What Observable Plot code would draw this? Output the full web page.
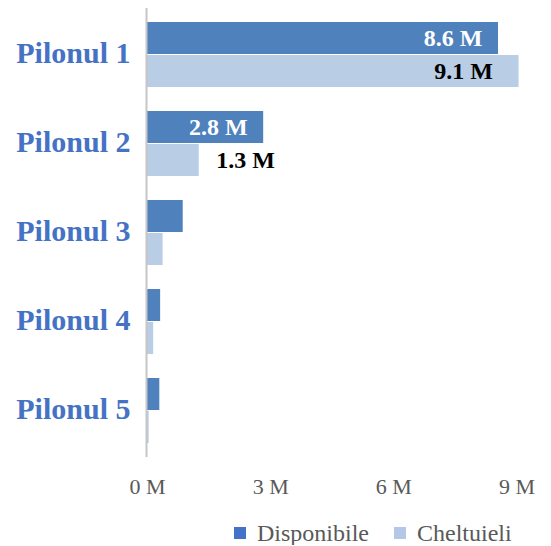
<!DOCTYPE html>
<html>
<head>
<meta charset="utf-8">
<script src="https://cdn.jsdelivr.net/npm/d3@7"></script>
<script src="https://cdn.jsdelivr.net/npm/@observablehq/plot@0.6"></script>
<style>
  body { margin: 0; background: #fff; font-family: "Liberation Serif", serif; overflow: hidden; }
  #chart svg { display: block; }
  #legend { display: flex; align-items: center; height: 24px; line-height: 24px; margin-top: 11px; padding-left: 234px; font-family: "Liberation Serif", serif; font-size: 24px; color: #595959; }
  #legend .sw { width: 12px; height: 12px; display: inline-block; margin-right: 11px; }
  #legend .item { display: flex; align-items: center; margin-right: 25px; font-family: "Liberation Serif", serif; }
</style>
</head>
<body>
<div id="chart"></div>
<script>
const categories = ["Pilonul 1", "Pilonul 2", "Pilonul 3", "Pilonul 4", "Pilonul 5"];
const disponibile = [8.55, 2.83, 0.87, 0.32, 0.30];
const cheltuieli = [9.05, 1.26, 0.38, 0.15, 0.04];
const seriesNames = ["Disponibile", "Cheltuieli"];
const xTicks = [0, 3, 6, 9];

const barColors = ["#4F81BD", "#B9CDE5"];
const legendColors = ["#4472C4", "#B4C7E7"];

const dispData = categories.map((c, i) => ({cat: c, v: disponibile[i]}));
const chelData = categories.map((c, i) => ({cat: c, v: cheltuieli[i]}));
const fmt = d => `${d} M`;
const fmt1 = d => `${d.toFixed(1)} M`;

const plot = Plot.plot({
  width: 551,
  height: 510,
  marginLeft: 147,
  marginRight: 14,
  marginTop: 8,
  marginBottom: 53,
  style: {fontFamily: "Liberation Serif, serif", background: "#fff"},
  x: {domain: [0, 9.5], ticks: xTicks, tickFormat: fmt, label: null},
  y: {domain: categories, paddingInner: 0.267, paddingOuter: 0.133, label: null},
  marks: [
    Plot.barX(dispData, {y: "cat", x: "v", fill: barColors[0], insetBottom: 33}),
    Plot.barX(chelData, {y: "cat", x: "v", fill: barColors[1], insetTop: 33}),
    Plot.ruleX([0], {stroke: "#C6C6C6", strokeWidth: 2, dx: -1}),
    Plot.text(dispData.filter(d => d.v >= 1), {y: "cat", x: "v", text: d => fmt1(d.v), textAnchor: "end", dx: -16, dy: -16.5, fill: "white", fontWeight: "bold", fontSize: 24}),
    Plot.text(chelData.filter(d => d.v >= 5), {y: "cat", x: "v", text: d => fmt1(d.v), textAnchor: "end", dx: -26, dy: 16.5, fill: "black", fontWeight: "bold", fontSize: 24}),
    Plot.text(chelData.filter(d => d.v >= 1 && d.v < 5), {y: "cat", x: "v", text: d => fmt1(d.v), textAnchor: "start", dx: 17, dy: 16.5, fill: "black", fontWeight: "bold", fontSize: 24}),
    Plot.axisX({ticks: xTicks, tickFormat: fmt, tickSize: 0, tickPadding: 21, fontSize: 22, fill: "#595959", label: null}),
    Plot.axisY({tickSize: 0, tickPadding: 17, fontSize: 30, fontWeight: "bold", fill: "#4472C4", label: null, dy: -2})
  ]
});
document.getElementById("chart").appendChild(plot);

const legend = document.createElement("div");
legend.id = "legend";
seriesNames.forEach((name, i) => {
  const item = document.createElement("span");
  item.className = "item";
  const sw = document.createElement("span");
  sw.className = "sw";
  sw.style.background = legendColors[i];
  item.appendChild(sw);
  item.appendChild(document.createTextNode(name));
  legend.appendChild(item);
});
document.body.appendChild(legend);
</script>
</body>
</html>
